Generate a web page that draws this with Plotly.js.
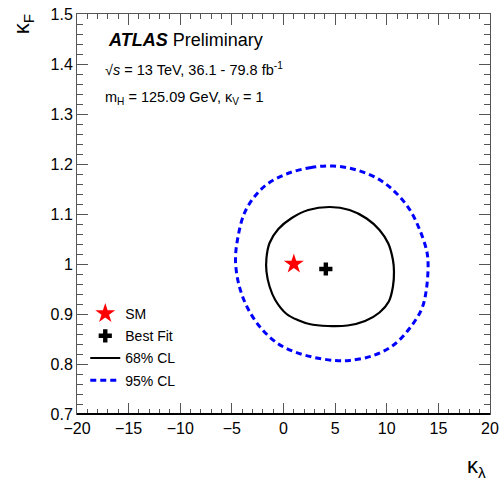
<!DOCTYPE html>
<html>
<head>
<meta charset="utf-8">
<script src="https://cdn.plot.ly/plotly-3.0.1.min.js"></script>
<style>html,body{margin:0;padding:0;background:#fff;}#chart{width:502px;height:481px;}</style>
</head>
<body>
<div id="chart"></div>
<script>
// 68% CL contour (kappa_lambda, kappa_F)
const kl68 = [4.5, 2.4, 0.8, -0.5, -1.35, -1.65, -1.65, -1.35, -0.8, 0.3, 1.5, 2.5, 4.3, 6.2, 7.9, 9.3, 10.2, 10.6, 10.7, 10.6, 10.15, 9.3, 8.05, 6.4, 4.5];
const kf68 = [1.114, 1.108, 1.092, 1.070, 1.042, 1.012, 0.985, 0.955, 0.928, 0.900, 0.887, 0.880, 0.876, 0.877, 0.886, 0.903, 0.925, 0.955, 0.985, 1.008, 1.041, 1.068, 1.091, 1.108, 1.114];
// 95% CL contour
const kl95 = [4.8, 2.7, 0.4, -1.5, -2.8, -3.8, -4.4, -4.65, -4.3, -3.45, -2.15, -0.55, 1.1, 3.0, 5.0, 6.4, 8.7, 10.6, 12.2, 13.4, 13.85, 14.0, 13.85, 13.2, 12.25, 10.95, 9.35, 7.1, 4.8];
const kf95 = [1.196, 1.193, 1.181, 1.161, 1.135, 1.101, 1.055, 1.008, 0.957, 0.911, 0.871, 0.841, 0.824, 0.813, 0.807, 0.807, 0.817, 0.837, 0.871, 0.911, 0.951, 1.004, 1.028, 1.068, 1.108, 1.141, 1.168, 1.188, 1.196];
// Points
const smKL = [1], smKF = [1];
const bfKL = [4.1], bfKF = [0.99];
const legendNames = ["SM", "Best Fit", "68% CL", "95% CL"];

const FONT = "Liberation Sans, Arial, Helvetica, sans-serif";

const traces = [
  {x: smKL, y: smKF, mode: "markers", name: legendNames[0], legendgroup: "a",
   marker: {symbol: "star", color: "#ff0000", size: 15, line: {width: 0}}},
  {x: bfKL, y: bfKF, mode: "markers", name: legendNames[1], legendgroup: "b",
   marker: {symbol: "cross", color: "#000000", size: 11, line: {width: 0}}},
  {x: kl68, y: kf68, mode: "lines", name: legendNames[2], legendgroup: "c",
   line: {color: "#000000", width: 2.2, shape: "spline", smoothing: 1}},
  {x: kl95, y: kf95, mode: "lines", name: legendNames[3], legendgroup: "d",
   line: {color: "#0000ff", width: 3, dash: "6px,4px", shape: "spline", smoothing: 1}}
];

const axisCommon = {
  showgrid: false, zeroline: false, showline: true, linecolor: "#555", linewidth: 1,
  mirror: "allticks", ticks: "inside", ticklen: 11, tickcolor: "#555", tickwidth: 1,
  tickfont: {family: FONT, size: 16, color: "#000"}
};

const layout = {
  width: 502, height: 481,
  margin: {l: 77, r: 12, t: 14, b: 67},
  paper_bgcolor: "#fff", plot_bgcolor: "#fff",
  font: {family: FONT, color: "#000"},
  showlegend: true,
  legend: {x: 0.02, y: 0.29, xanchor: "left", yanchor: "top", bgcolor: "rgba(0,0,0,0)",
           traceorder: "grouped", tracegroupgap: 1,
           font: {family: FONT, size: 14, color: "#000"}, itemwidth: 30},
  xaxis: Object.assign({}, axisCommon, {range: [-20, 20], dtick: 5, tick0: 0,
    minor: {dtick: 1, ticks: "inside", ticklen: 5, tickcolor: "#555", showgrid: false}}),
  yaxis: Object.assign({}, axisCommon, {range: [0.7, 1.5], dtick: 0.1, tick0: 0.7,
    minor: {dtick: 0.02, ticks: "inside", ticklen: 6, tickcolor: "#555", showgrid: false}}),
  shapes: [
    {type: "line", xref: "paper", yref: "paper", x0: 0, x1: 1, y0: 0, y1: 0,
     line: {color: "#000", width: 2}}
  ],
  annotations: [
    {xref: "paper", yref: "paper", x: 0.07, y: 0.935, xanchor: "left", yanchor: "middle", showarrow: false,
     text: "<b><i>ATLAS</i></b> Preliminary", font: {family: FONT, size: 18, color: "#000"}},
    {xref: "paper", yref: "paper", x: 0.063, y: 0.862, xanchor: "left", yanchor: "middle", showarrow: false,
     text: "√<i>s</i> = 13 TeV, 36.1 - 79.8 fb<sup>-1</sup>", font: {family: FONT, size: 14.5, color: "#000"}},
    {xref: "paper", yref: "paper", x: 0.063, y: 0.79, xanchor: "left", yanchor: "middle", showarrow: false,
     text: "m<sub>H</sub> = 125.09 GeV, κ<sub>V</sub> = 1", font: {family: FONT, size: 14.5, color: "#000"}},
    {xref: "paper", yref: "paper", x: 0.9685, y: -0.1325, xanchor: "center", yanchor: "middle", showarrow: false,
     text: "κ<sub>λ</sub>", font: {family: FONT, size: 22, color: "#000"}},
    {xref: "paper", yref: "paper", x: -0.13, y: 0.975, xanchor: "center", yanchor: "middle", showarrow: false,
     textangle: -90, text: "κ<sub>F</sub>", font: {family: FONT, size: 22, color: "#000"}}
  ]
};

Plotly.newPlot("chart", traces, layout, {displayModeBar: false, staticPlot: true});
</script>
</body>
</html>
